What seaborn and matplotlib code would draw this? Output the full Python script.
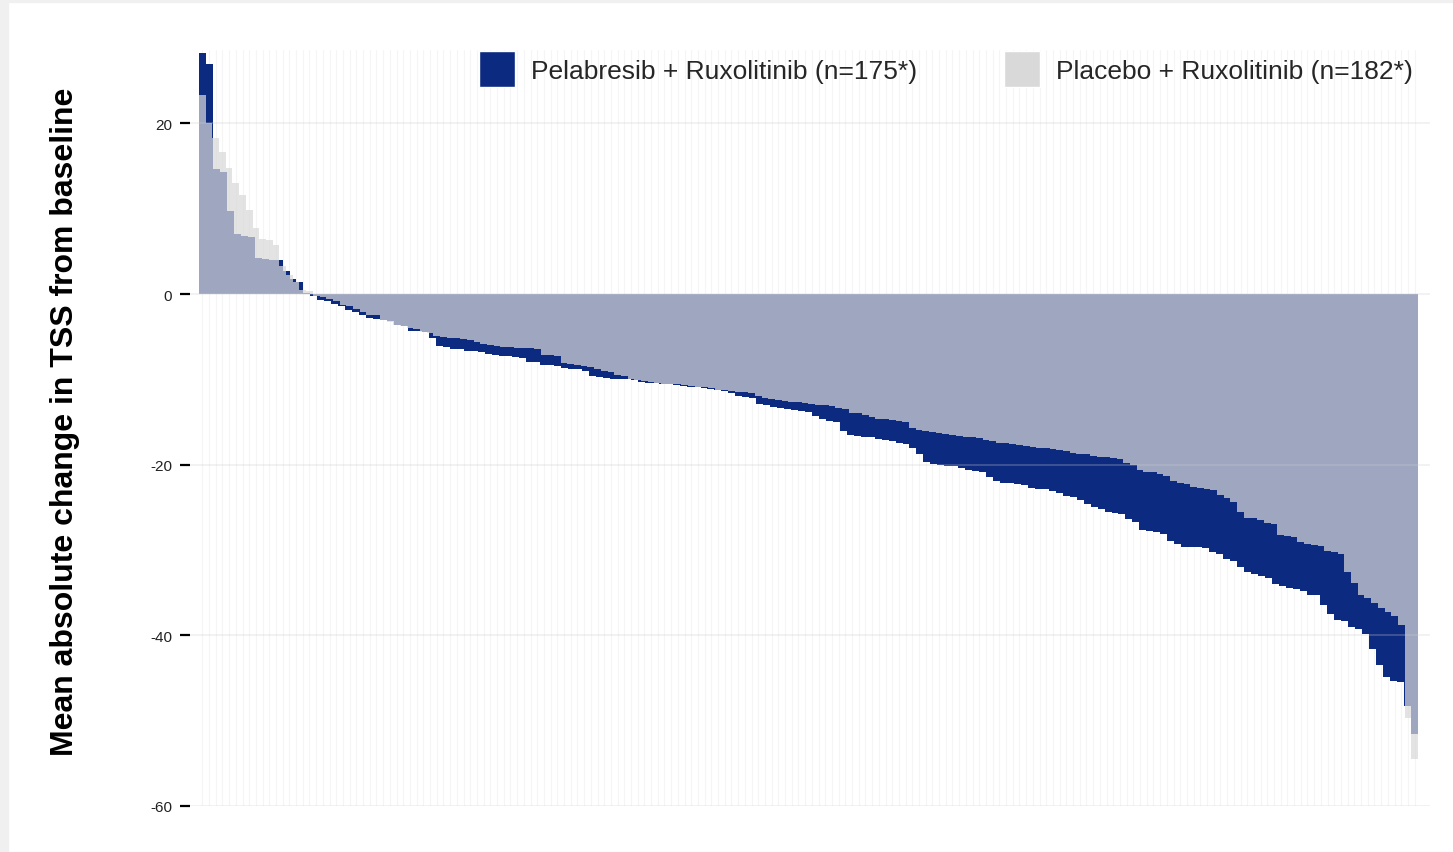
import numpy as np
import pandas as pd
import seaborn as sns
import matplotlib.pyplot as plt
from matplotlib.patches import Patch, Rectangle

# legend labels
pela_label = 'Pelabresib + Ruxolitinib (n=175*)'
placebo_label = 'Placebo + Ruxolitinib (n=182*)'
y_label = 'Mean absolute change in TSS from baseline'
y_ticks = [20, 0, -20, -40, -60]

# mean absolute change per patient, sorted
pela_values = [
    28.2, 27.0, 14.7, 14.3, 9.7, 7.0, 6.8, 6.7, 4.2, 4.1,
    4.0, 4.0, 2.7, 1.8, 1.4, 0.1, -0.25, -0.7, -0.8, -1.2,
    -1.4, -1.9, -2.1, -2.4, -2.8, -2.9, -3.1, -3.2, -3.6, -3.8,
    -4.3, -4.3, -4.5, -5.1, -6.1, -6.2, -6.4, -6.5, -6.7, -6.7,
    -6.8, -7.0, -7.2, -7.3, -7.3, -7.4, -7.5, -8.0, -8.0, -8.3,
    -8.3, -8.4, -8.7, -8.8, -8.8, -9.0, -9.6, -9.7, -9.8, -9.9,
    -10.0, -10.0, -10.1, -10.3, -10.4, -10.4, -10.5, -10.6, -10.7, -10.8,
    -10.9, -10.9, -11.0, -11.1, -11.3, -11.4, -11.6, -12.0, -12.1, -12.2,
    -12.9, -13.0, -13.2, -13.4, -13.5, -13.6, -13.7, -13.8, -14.3, -14.6,
    -14.9, -15.0, -16.0, -16.5, -16.6, -16.7, -16.8, -17.0, -17.1, -17.2,
    -17.4, -17.6, -18.0, -18.8, -19.7, -19.9, -20.0, -20.1, -20.2, -20.4,
    -20.6, -20.7, -20.9, -21.5, -21.9, -22.1, -22.2, -22.3, -22.4, -22.7,
    -22.8, -22.9, -23.1, -23.3, -23.7, -23.8, -24.1, -24.6, -24.9, -25.2,
    -25.5, -25.7, -25.8, -26.4, -26.7, -27.6, -27.8, -27.9, -28.1, -29.0,
    -29.3, -29.6, -29.7, -29.7, -29.8, -30.2, -30.5, -31.1, -31.3, -32.0,
    -32.6, -32.8, -33.1, -33.3, -34.0, -34.2, -34.4, -34.6, -34.8, -35.3,
    -35.3, -36.4, -37.5, -38.2, -38.3, -39.0, -39.2, -39.9, -41.6, -43.5,
    -44.9, -45.3, -45.5, -48.3, -51.6,
]

placebo_values = [
    23.3, 20.1, 18.3, 16.7, 14.8, 13.0, 11.6, 9.9, 7.7, 6.5,
    6.3, 5.8, 3.3, 2.2, 1.4, 0.5, 0.3, -0.2, -0.4, -0.6,
    -0.8, -1.3, -1.4, -1.8, -2.1, -2.5, -2.5, -3.1, -3.3, -3.6,
    -3.8, -4.0, -4.1, -4.5, -4.6, -4.9, -5.0, -5.2, -5.2, -5.3,
    -5.4, -5.6, -5.8, -6.0, -6.1, -6.2, -6.2, -6.3, -6.3, -6.3,
    -6.4, -7.1, -7.1, -7.3, -8.1, -8.2, -8.3, -8.4, -8.6, -8.8,
    -9.0, -9.1, -9.5, -9.6, -10.0, -10.1, -10.2, -10.3, -10.4, -10.5,
    -10.5, -10.6, -10.7, -10.8, -10.9, -10.9, -11.0, -11.2, -11.3, -11.4,
    -11.5, -11.5, -11.6, -12.0, -12.2, -12.3, -12.4, -12.5, -12.6, -12.7,
    -12.8, -12.9, -13.0, -13.0, -13.1, -13.3, -13.5, -13.9, -14.0, -14.2,
    -14.4, -14.6, -14.7, -14.8, -14.9, -15.0, -15.7, -15.9, -16.1, -16.2,
    -16.3, -16.4, -16.5, -16.6, -16.7, -16.8, -16.9, -17.1, -17.2, -17.4,
    -17.5, -17.6, -17.7, -17.8, -17.9, -18.0, -18.1, -18.2, -18.3, -18.4,
    -18.6, -18.7, -18.8, -19.0, -19.1, -19.1, -19.2, -19.3, -19.8, -20.0,
    -20.6, -20.8, -20.9, -21.1, -21.3, -21.9, -22.1, -22.3, -22.6, -22.7,
    -22.8, -23.0, -23.6, -23.9, -24.4, -25.5, -26.2, -26.3, -26.5, -26.8,
    -27.0, -28.2, -28.3, -28.5, -29.1, -29.3, -29.4, -29.5, -30.1, -30.2,
    -30.5, -32.6, -33.9, -35.3, -35.6, -36.2, -36.8, -37.3, -37.7, -38.8,
    -49.7, -54.5,
]

navy = '#0c2a80'
light_gray = '#d9d9d9'

sns.set_theme(style='white')
plt.rcParams['font.family'] = ['Liberation Sans', 'DejaVu Sans']
plt.rcParams['axes.unicode_minus'] = False

W, H = 1453, 853
fig = plt.figure(figsize=(W / 100, H / 100), dpi=100)
fig.patch.set_facecolor('white')
# light grey frame on the left and top edge
fig.patches.append(Rectangle((0, 0), 8 / W, 1, transform=fig.transFigure,
                             color='#f0f0f0', zorder=-1))
fig.patches.append(Rectangle((0, 1 - 3 / H), 1, 3 / H, transform=fig.transFigure,
                             color='#f0f0f0', zorder=-1))

ax = fig.add_axes([190 / W, 46 / H, 1240 / W, 756 / H])

# both arms share the same horizontal span, so the smaller arm gets wider bars
n_plac = len(placebo_values)
n_pela = len(pela_values)
step = n_plac / n_pela
plac_df = pd.DataFrame({'pos': np.arange(n_plac, dtype=float), 'value': placebo_values})
pela_df = pd.DataFrame({'pos': -0.5 + (np.arange(n_pela) + 0.5) * step, 'value': pela_values})

sns.barplot(data=pela_df, x='pos', y='value', native_scale=True, width=1,
            color=navy, saturation=1, errorbar=None, linewidth=0, ax=ax)
sns.barplot(data=plac_df, x='pos', y='value', native_scale=True, width=1,
            color=light_gray, saturation=1, errorbar=None, linewidth=0,
            alpha=0.72, ax=ax)

ax.set_xlim(-1.84, 183.29)
ax.set_ylim(-60, 28.6)

# faint vertical grid, one per patient slot
ax.set_xticks(np.arange(n_plac))
ax.grid(axis='x', color='#f5f5f5', lw=0.8)
ax.grid(axis='y', visible=False)
ax.set_axisbelow(True)
ax.tick_params(axis='x', length=0, labelbottom=False)

for t in y_ticks:
    ax.axhline(t, color='#cccccc', alpha=0.3, lw=1.2, zorder=5)

ax.set_yticks(y_ticks)
ax.set_yticklabels([str(t) for t in y_ticks])
ax.tick_params(axis='y', left=True, length=7, width=1.6, color='black',
               pad=6, labelsize=11, labelcolor='#222222')

for s in ax.spines.values():
    s.set_visible(False)

ax.set_xlabel('')
ax.set_ylabel(y_label, fontsize=23, fontweight='bold', color='black')
ax.yaxis.set_label_coords(-0.0885, 0.509)

handles = [Patch(facecolor=navy, label=pela_label),
           Patch(facecolor=light_gray, label=placebo_label)]
fig.legend(handles=handles, loc='upper right', bbox_to_anchor=(1413 / W, 1 - 52 / H),
           ncol=2, frameon=False, fontsize=19, handlelength=1.36, handleheight=1.75,
           handletextpad=0.6, columnspacing=3.3, borderpad=0, borderaxespad=0)

fig.savefig('out.png', dpi=100)
